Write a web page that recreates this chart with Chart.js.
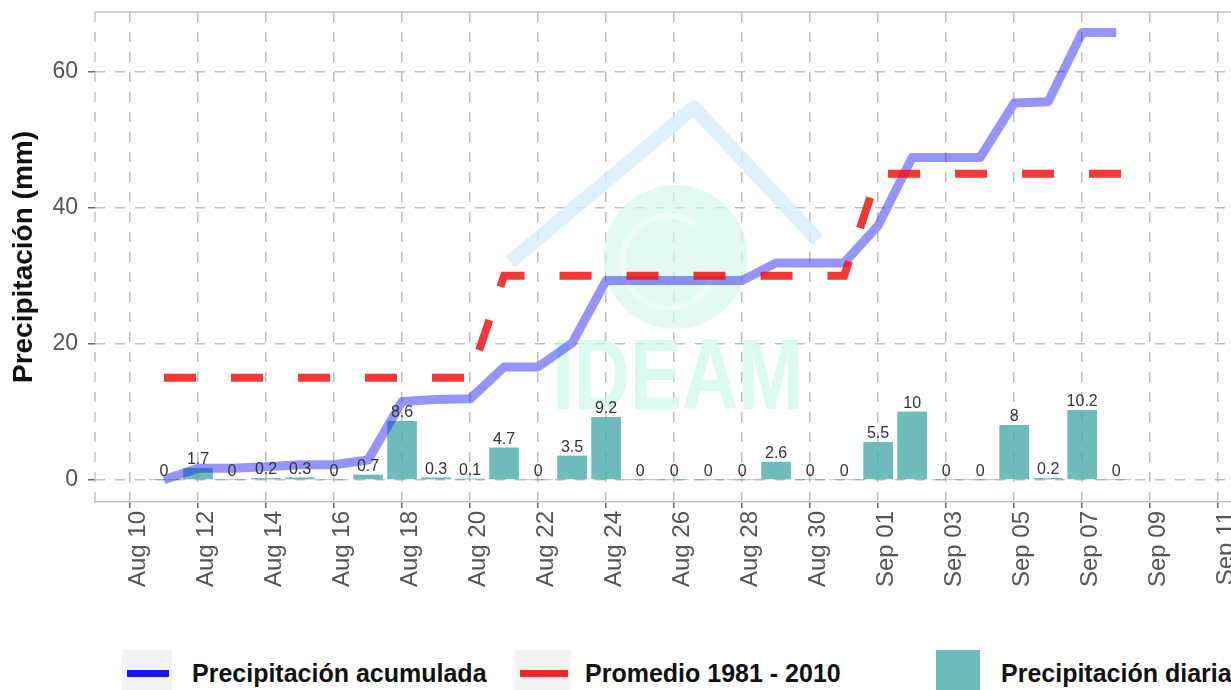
<!DOCTYPE html>
<html lang="es">
<head>
<meta charset="utf-8">
<title>Precipitación acumulada</title>
<script src="https://cdn.jsdelivr.net/npm/chart.js@4.4.0/dist/chart.umd.min.js"></script>
<style>
  html, body { margin: 0; padding: 0; background: #fff; overflow: hidden; }
  #wrap { position: relative; width: 1231px; height: 690px; overflow: hidden; font-family: "Liberation Sans", Arial, sans-serif; }
  #chartBox { position: absolute; left: 0; top: 0; width: 1262px; height: 625px; }
  .lg-key { position: absolute; top: 650px; height: 46px; }
  .lg-key.line { background: #f3f3f3; }
  .lg-key.line span { position: absolute; left: 5px; right: 3px; top: 20px; height: 7px; }
  .lg-text { position: absolute; top: 658px; font-weight: bold; font-size: 25px; line-height: 30px; color: #111; white-space: nowrap; }
</style>
</head>
<body>
<div id="wrap">
  <div id="chartBox"><canvas id="precipChart"></canvas></div>
  <div id="legend"></div>
</div>
<script>
// origin of the day axis
const origin = '2023-08-10';

const days = [
    '2023-08-11', '2023-08-12', '2023-08-13', '2023-08-14', '2023-08-15', '2023-08-16', '2023-08-17',
    '2023-08-18', '2023-08-19', '2023-08-20', '2023-08-21', '2023-08-22', '2023-08-23', '2023-08-24',
    '2023-08-25', '2023-08-26', '2023-08-27', '2023-08-28', '2023-08-29', '2023-08-30', '2023-08-31',
    '2023-09-01', '2023-09-02', '2023-09-03', '2023-09-04', '2023-09-05', '2023-09-06', '2023-09-07',
    '2023-09-08'
];
const dailyPrecip = [0, 1.7, 0, 0.2, 0.3, 0, 0.7, 8.6, 0.3, 0.1, 4.7, 0, 3.5, 9.2, 0, 0, 0, 0, 2.6, 0, 0,
    5.5, 10, 0, 0, 8, 0.2, 10.2, 0];
const cumPrecip = [0, 1.7, 1.7, 1.9, 2.2, 2.2, 2.9, 11.5, 11.8, 11.9, 16.6, 16.6, 20.1, 29.3, 29.3, 29.3,
    29.3, 29.3, 31.9, 31.9, 31.9, 37.4, 47.4, 47.4, 47.4, 55.4, 55.6, 65.8, 65.8];

const avgDays = [
    '2023-08-11', '2023-08-12', '2023-08-13', '2023-08-14', '2023-08-15', '2023-08-16', '2023-08-17',
    '2023-08-18', '2023-08-19', '2023-08-20', '2023-08-21', '2023-08-22', '2023-08-23', '2023-08-24',
    '2023-08-25', '2023-08-26', '2023-08-27', '2023-08-28', '2023-08-29', '2023-08-30', '2023-08-31',
    '2023-09-01', '2023-09-02', '2023-09-03', '2023-09-04', '2023-09-05', '2023-09-06', '2023-09-07',
    '2023-09-08', '2023-09-09'
];
const avgPrecip = [15, 15, 15, 15, 15, 15, 15, 15, 15, 15,
    30, 30, 30, 30, 30, 30, 30, 30, 30, 30, 30,
    45, 45, 45, 45, 45, 45, 45, 45, 45];

const xTickDates = ['2023-08-10', '2023-08-12', '2023-08-14', '2023-08-16', '2023-08-18', '2023-08-20',
    '2023-08-22', '2023-08-24', '2023-08-26', '2023-08-28', '2023-08-30', '2023-09-01', '2023-09-03',
    '2023-09-05', '2023-09-07', '2023-09-09', '2023-09-11'];
const xTickLabels = ['Aug 10', 'Aug 12', 'Aug 14', 'Aug 16', 'Aug 18', 'Aug 20', 'Aug 22', 'Aug 24',
    'Aug 26', 'Aug 28', 'Aug 30', 'Sep 01', 'Sep 03', 'Sep 05', 'Sep 07', 'Sep 09', 'Sep 11'];
const yTicks = [0, 20, 40, 60];

const legendLabels = ['Precipitación acumulada', 'Promedio 1981 - 2010', 'Precipitación diaria'];

// day offset from origin
function toX(iso) {
    return (Date.parse(iso) - Date.parse(origin)) / 86400000;
}

Chart.defaults.font.family = '"Liberation Sans", Arial, sans-serif';

// faint institutional watermark behind the data
const watermark = {
    id: 'watermark',
    beforeDatasetsDraw(chart) {
        const {ctx, chartArea: a} = chart;
        const w = a.right - a.left, h = a.bottom - a.top;
        const px = f => a.left + f * w;
        const py = f => a.top + f * h;
        ctx.save();
        // eye
        ctx.fillStyle = 'rgba(215,246,240,0.7)';
        ctx.beginPath();
        ctx.arc(px(0.506), py(0.50), 72, 0, Math.PI * 2);
        ctx.fill();
        ctx.strokeStyle = 'rgba(240,253,250,0.9)';
        ctx.lineWidth = 6;
        ctx.beginPath();
        ctx.arc(px(0.50), py(0.51), 46, 0.3, Math.PI * 1.7);
        ctx.stroke();
        // roof
        ctx.strokeStyle = 'rgba(212,236,250,0.8)';
        ctx.lineWidth = 14;
        ctx.lineJoin = 'round';
        ctx.beginPath();
        ctx.moveTo(px(0.362), py(0.51));
        ctx.lineTo(px(0.522), py(0.195));
        ctx.lineTo(px(0.630), py(0.465));
        ctx.stroke();
        // text
        ctx.fillStyle = 'rgba(205,250,232,0.75)';
        ctx.font = 'bold 78px "Liberation Sans", Arial, sans-serif';
        ctx.textAlign = 'center';
        ctx.textBaseline = 'alphabetic';
        ctx.translate(px(0.508), py(0.81));
        ctx.scale(1, 1.28);
        ctx.fillText('IDEAM', 0, 0);
        ctx.restore();
    }
};

// value labels over the daily bars + panel border
const barLabels = {
    id: 'barLabels',
    afterDatasetsDraw(chart) {
        const {ctx, chartArea: a} = chart;
        ctx.save();
        ctx.strokeStyle = '#c4c4c4';
        ctx.lineWidth = 1.5;
        ctx.beginPath();
        ctx.moveTo(a.left, a.top);
        ctx.lineTo(a.right, a.top);
        ctx.stroke();
        ctx.setLineDash([10, 10]);
        ctx.beginPath();
        ctx.moveTo(a.left, a.top);
        ctx.lineTo(a.left, a.bottom);
        ctx.stroke();

        const meta = chart.getDatasetMeta(2);
        ctx.font = '16px "Liberation Sans", Arial, sans-serif';
        ctx.fillStyle = '#333';
        ctx.textAlign = 'center';
        ctx.textBaseline = 'alphabetic';
        meta.data.forEach((bar, i) => {
            ctx.fillText(String(dailyPrecip[i]), bar.x, bar.y - 4);
        });
        ctx.restore();
    }
};

const ctx = document.getElementById('precipChart').getContext('2d');
new Chart(ctx, {
    data: {
        datasets: [
            {
                type: 'line',
                label: legendLabels[1],
                data: avgDays.map((d, i) => ({x: toX(d), y: avgPrecip[i]})),
                borderColor: 'rgba(240,20,20,0.85)',
                borderWidth: 8,
                borderDash: [32, 35],
                borderCapStyle: 'butt',
                pointRadius: 0,
                fill: false,
                order: 0
            },
            {
                type: 'line',
                label: legendLabels[0],
                data: days.map((d, i) => ({x: toX(d), y: cumPrecip[i]})),
                borderColor: 'rgba(30,30,240,0.47)',
                borderWidth: 9,
                borderJoinStyle: 'round',
                pointRadius: 0,
                fill: false,
                order: 1
            },
            {
                type: 'bar',
                label: legendLabels[2],
                data: days.map((d, i) => ({x: toX(d), y: dailyPrecip[i]})),
                backgroundColor: 'rgba(72,170,170,0.8)',
                barThickness: 29,
                order: 2
            }
        ]
    },
    options: {
        responsive: true,
        maintainAspectRatio: false,
        animation: false,
        layout: {padding: {top: 12, left: 0, right: 20, bottom: 0}},
        plugins: {
            legend: {display: false},
            tooltip: {enabled: false}
        },
        scales: {
            x: {
                type: 'linear',
                offset: false,
                min: -1.03,
                max: 32.7,
                afterBuildTicks: scale => {
                    scale.ticks = xTickDates.map(d => ({value: toX(d)}));
                },
                afterFit: scale => {
                    scale.height = 123;
                },
                ticks: {
                    autoSkip: false,
                    minRotation: 90,
                    maxRotation: 90,
                    padding: 3,
                    labelOffset: 8,
                    color: '#555',
                    font: {size: 24},
                    callback: (value, index) => xTickLabels[index]
                },
                grid: {
                    offset: false,
                    color: '#bdbdbd',
                    lineWidth: 1.5,
                    tickColor: '#666',
                    tickLength: 6,
                    tickWidth: 1.5,
                    tickBorderDash: []
                },
                border: {display: true, color: '#c4c4c4', width: 1.5, dash: [10, 10]}
            },
            y: {
                min: -3.27,
                max: 68.8,
                afterBuildTicks: scale => {
                    scale.ticks = yTicks.map(v => ({value: v}));
                },
                afterFit: scale => {
                    scale.width = 95;
                    scale.paddingTop = 0;
                    scale.paddingBottom = 0;
                },
                ticks: {
                    padding: 10,
                    color: '#555',
                    font: {size: 23}
                },
                title: {
                    display: true,
                    text: 'Precipitación (mm)',
                    color: '#111',
                    font: {size: 28, weight: 'bold'},
                    padding: {top: 7, bottom: 0}
                },
                grid: {
                    color: '#bdbdbd',
                    lineWidth: 1.5,
                    tickColor: '#666',
                    tickLength: 7,
                    tickWidth: 1.5,
                    tickBorderDash: []
                },
                border: {display: false, dash: [10, 10]}
            }
        }
    },
    plugins: [watermark, barLabels]
});

// legend below the panel
const legend = document.getElementById('legend');
const keyStyles = [
    {cls: 'lg-key line', left: 122, width: 50, color: '#1a1af0'},
    {cls: 'lg-key line', left: 515, width: 56, color: '#ee2a2a'},
    {cls: 'lg-key', left: 936, width: 44, color: '#6dbcbc'}
];
const textLeft = [192, 585, 1001];
legendLabels.forEach((label, i) => {
    const k = keyStyles[i];
    const key = document.createElement('div');
    key.className = k.cls;
    key.style.left = k.left + 'px';
    key.style.width = k.width + 'px';
    if (k.cls.includes('line')) {
        const ln = document.createElement('span');
        ln.style.background = k.color;
        key.appendChild(ln);
    } else {
        key.style.background = k.color;
    }
    legend.appendChild(key);
    const txt = document.createElement('div');
    txt.className = 'lg-text';
    txt.style.left = textLeft[i] + 'px';
    txt.textContent = label;
    legend.appendChild(txt);
});
</script>
</body>
</html>
